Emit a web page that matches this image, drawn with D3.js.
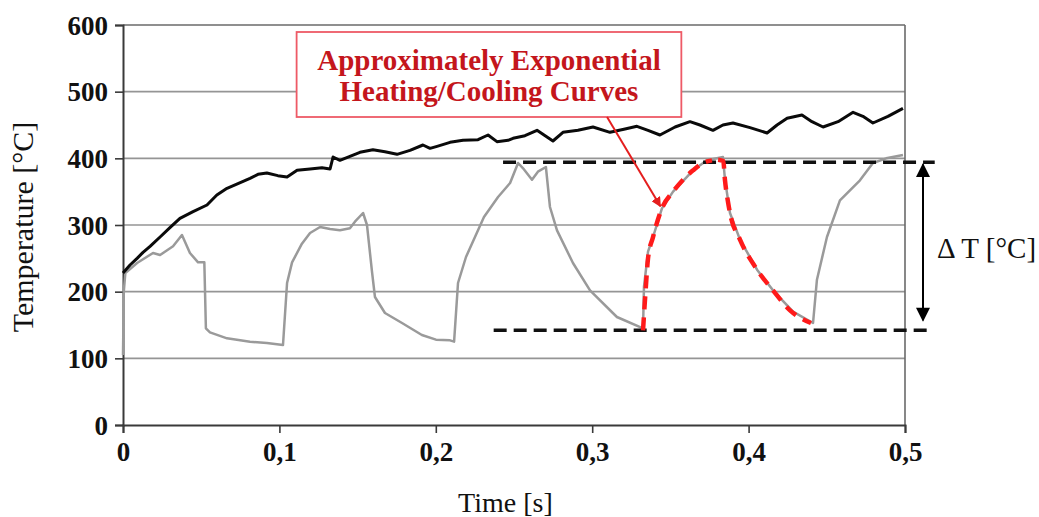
<!DOCTYPE html>
<html>
<head>
<meta charset="utf-8">
<script src="https://cdn.jsdelivr.net/npm/d3@7"></script>
<style>
  body { margin: 0; background: #fff; }
  svg { display: block; }
</style>
</head>
<body>
<svg></svg>
<script>
const w = 1039;
const h = 517;

// tick values
const xTicks = [0, 0.1, 0.2, 0.3, 0.4, 0.5];
const yTicks = [0, 100, 200, 300, 400, 500, 600];

// measured temperature (black)
const blackT = [0, 0.0045, 0.009, 0.0128, 0.0173, 0.0237, 0.03, 0.0364, 0.0448, 0.0537, 0.06, 0.0665, 0.0735, 0.0812, 0.0863, 0.092, 0.099, 0.1049, 0.1113, 0.1196, 0.1272, 0.1324, 0.1343, 0.1387, 0.1451, 0.1515, 0.1598, 0.1675, 0.1752, 0.1835, 0.1918, 0.1963, 0.2008, 0.2091, 0.2174, 0.227, 0.2334, 0.2391, 0.2462, 0.2494, 0.257, 0.2647, 0.2749, 0.2813, 0.2909, 0.3005, 0.3114, 0.321, 0.3286, 0.3357, 0.3433, 0.353, 0.3625, 0.3689, 0.3772, 0.3836, 0.39, 0.4009, 0.4118, 0.4182, 0.4246, 0.4341, 0.4405, 0.4476, 0.4572, 0.4668, 0.4731, 0.4795, 0.4891, 0.4987];
const blackV = [228, 240, 250, 259, 268, 282, 296, 310, 320, 330, 345, 355, 362, 370, 376, 378, 374, 372, 382, 384, 386, 384, 402, 397, 403, 409, 413, 410, 406, 412, 420, 415, 418, 424, 427, 428, 435, 425, 427, 430, 434, 442, 426, 439, 442, 447, 439, 444, 448, 442, 435, 447, 455, 450, 442, 450, 453, 446, 438, 450, 460, 465, 455, 447, 455, 469, 463, 453, 463, 475];

// measured temperature (grey)
const greyT = [0, 0.0005, 0.0015, 0.009, 0.0192, 0.0237, 0.032, 0.0377, 0.0428, 0.048, 0.052, 0.053, 0.0556, 0.0665, 0.0812, 0.092, 0.1023, 0.1049, 0.1081, 0.1144, 0.1196, 0.126, 0.1324, 0.1387, 0.1451, 0.1483, 0.1535, 0.156, 0.1592, 0.1611, 0.1675, 0.1784, 0.1911, 0.2001, 0.2091, 0.2117, 0.2142, 0.2193, 0.2308, 0.2398, 0.2475, 0.2526, 0.2558, 0.2615, 0.2653, 0.2704, 0.273, 0.2775, 0.2877, 0.2986, 0.3158, 0.3325, 0.3331, 0.3357, 0.3389, 0.3446, 0.3517, 0.3645, 0.3734, 0.3836, 0.3849, 0.3881, 0.3945, 0.4054, 0.4156, 0.4284, 0.4412, 0.4437, 0.4501, 0.4584, 0.4712, 0.4795, 0.4880, 0.4987];
const greyV = [105, 200, 228, 243, 258, 255, 268, 285, 258, 244, 244, 145, 139, 130, 125, 123, 120, 213, 244, 272, 288, 297, 294, 292, 295, 305, 318, 300, 230, 192, 168, 153, 135, 128, 127, 125, 213, 252, 312, 342, 363, 393, 385, 368, 380, 387, 327, 292, 243, 202, 162, 145, 207, 260, 282, 325, 350, 382, 397, 402, 368, 318, 278, 233, 202, 170, 153, 218, 282, 337, 367, 393, 400, 405];

// fitted curves (red dashed)
const heatT = [0.3325, 0.3341, 0.3357, 0.3389, 0.3446, 0.3517, 0.3581, 0.3645, 0.3709, 0.3766];
const heatV = [142, 200, 250, 282, 325, 350, 368, 382, 393, 397];
const coolT = [0.3805, 0.3838, 0.3849, 0.3868, 0.3881, 0.3945, 0.4054, 0.4156, 0.4265, 0.4399];
const coolV = [398, 396, 367, 335, 318, 278, 233, 202, 172, 153];

// delta T band
const bandTop = 394;
const bandBottom = 142;
const bandTopFrom = 0.243;
const bandBottomFrom = 0.237;
const bandTopTo = 0.519;
const bandBottomTo = 0.514;
const arrowAt = 0.5115;
const arrowTop = 391;
const arrowBottom = 157;

const svg = d3.select('svg').attr('width', w).attr('height', h);

const x = d3.scaleLinear().domain([0, 0.5]).range([123, 905]);
const y = d3.scaleLinear().domain([0, 600]).range([425, 25]);

const serif = '"Liberation Serif", "Times New Roman", serif';

const defs = svg.append('defs');
defs.append('marker')
  .attr('id', 'redHead')
  .attr('viewBox', '0 0 10 10')
  .attr('refX', 9).attr('refY', 5)
  .attr('markerWidth', 5).attr('markerHeight', 5)
  .attr('orient', 'auto')
  .append('path').attr('d', 'M0,0 L10,5 L0,10 z').attr('fill', '#e41e1e');
defs.append('marker')
  .attr('id', 'blackHead')
  .attr('viewBox', '0 0 10 10')
  .attr('refX', 9).attr('refY', 5)
  .attr('markerWidth', 7.5).attr('markerHeight', 7)
  .attr('orient', 'auto-start-reverse')
  .append('path').attr('d', 'M0,0 L10,5 L0,10 z').attr('fill', '#000');

// grid
svg.append('g')
  .selectAll('line')
  .data(yTicks.filter(d => d > 0 && d < 600))
  .enter()
  .append('line')
  .attr('x1', x(0)).attr('x2', x(0.5))
  .attr('y1', d => y(d)).attr('y2', d => y(d))
  .attr('stroke', '#959595').attr('stroke-width', 1.6);

// frame
svg.append('line')
  .attr('x1', x(0)).attr('x2', x(0.5)).attr('y1', y(600)).attr('y2', y(600))
  .attr('stroke', '#6a6a6a').attr('stroke-width', 1.6);
svg.append('line')
  .attr('x1', x(0.5)).attr('x2', x(0.5)).attr('y1', y(600)).attr('y2', y(0))
  .attr('stroke', '#6a6a6a').attr('stroke-width', 1.6);

// axes
const xAxis = d3.axisBottom(x).tickValues(xTicks).tickSize(8).tickPadding(9)
  .tickFormat(d => d3.format('.1f')(d).replace('.', ',').replace(/^0,0$/, '0'));
const gx = svg.append('g').attr('transform', `translate(0,${y(0)})`).call(xAxis);
const yAxis = d3.axisLeft(y).tickValues(yTicks).tickSize(8).tickPadding(7);
const gy = svg.append('g').attr('transform', `translate(${x(0)},0)`).call(yAxis);

[gx, gy].forEach(g => {
  g.select('.domain').attr('stroke', '#3a3a3a').attr('stroke-width', 2);
  g.selectAll('.tick line').attr('stroke', '#3a3a3a').attr('stroke-width', 1.6);
  g.selectAll('.tick text')
    .attr('fill', '#111')
    .style('font-family', serif)
    .style('font-weight', 'bold')
    .style('font-size', '27px');
});
gy.selectAll('.tick text').attr('dy', '0.34em');

const line = d3.line().x(d => x(d[0])).y(d => y(d[1]));

// grey series
svg.append('path')
  .datum(d3.zip(greyT, greyV))
  .attr('d', line)
  .attr('fill', 'none')
  .attr('stroke', '#9a9a9a')
  .attr('stroke-width', 2.5)
  .attr('stroke-linejoin', 'round');

// black series
svg.append('path')
  .datum(d3.zip(blackT, blackV))
  .attr('d', line)
  .attr('fill', 'none')
  .attr('stroke', '#0a0a0a')
  .attr('stroke-width', 3)
  .attr('stroke-linejoin', 'round');

// band lines
svg.append('line')
  .attr('x1', x(bandTopFrom)).attr('x2', x(bandTopTo))
  .attr('y1', y(bandTop)).attr('y2', y(bandTop))
  .attr('stroke', '#111').attr('stroke-width', 3.5).attr('stroke-dasharray', '13,7');
svg.append('line')
  .attr('x1', x(bandBottomFrom)).attr('x2', x(bandBottomTo))
  .attr('y1', y(bandBottom)).attr('y2', y(bandBottom))
  .attr('stroke', '#111').attr('stroke-width', 3.5).attr('stroke-dasharray', '13,7');

// red fitted curves
[d3.zip(heatT, heatV), d3.zip(coolT, coolV)].forEach(pts => {
  svg.append('path')
    .datum(pts)
    .attr('d', d3.line().x(d => x(d[0])).y(d => y(d[1])).curve(d3.curveMonotoneX))
    .attr('fill', 'none')
    .attr('stroke', '#ff1a1a')
    .attr('stroke-width', 4.5)
    .attr('stroke-dasharray', '13,8');
});

// double arrow for delta T
svg.append('line')
  .attr('x1', x(arrowAt)).attr('x2', x(arrowAt))
  .attr('y1', y(arrowTop)).attr('y2', y(arrowBottom))
  .attr('stroke', '#000').attr('stroke-width', 2)
  .attr('marker-start', 'url(#blackHead)')
  .attr('marker-end', 'url(#blackHead)');

svg.append('text')
  .attr('x', x(0.5205)).attr('y', y(250.5))
  .style('font-family', serif).style('font-size', '29px')
  .attr('fill', '#111')
  .text('\u0394 T [\u00b0C]');

// annotation box
const box = { t0: 0.111, t1: 0.357, v0: 589.5, v1: 462 };
svg.append('rect')
  .attr('x', x(box.t0)).attr('y', y(box.v0))
  .attr('width', x(box.t1) - x(box.t0)).attr('height', y(box.v1) - y(box.v0))
  .attr('fill', '#fff').attr('stroke', '#ee5a66').attr('stroke-width', 1.8);

const noteLines = ['Approximately Exponential', 'Heating/Cooling Curves'];
const noteAt = [532.5, 486];
svg.append('g')
  .selectAll('text')
  .data(noteLines)
  .enter()
  .append('text')
  .attr('x', x((box.t0 + box.t1) / 2))
  .attr('y', (d, i) => y(noteAt[i]))
  .attr('text-anchor', 'middle')
  .style('font-family', serif).style('font-weight', 'bold').style('font-size', '29px')
  .attr('fill', '#c4161c')
  .text(d => d);

svg.append('line')
  .attr('x1', x(0.3095)).attr('y1', y(462))
  .attr('x2', x(0.3436)).attr('y2', y(328))
  .attr('stroke', '#e41e1e').attr('stroke-width', 2)
  .attr('marker-end', 'url(#redHead)');

// axis titles
svg.append('text')
  .attr('transform', `translate(33,${y(297)}) rotate(-90)`)
  .attr('text-anchor', 'middle')
  .style('font-family', serif).style('font-size', '30px')
  .attr('fill', '#111')
  .text('Temperature [\u00b0C]');

svg.append('text')
  .attr('x', x(0.2445)).attr('y', 512)
  .attr('text-anchor', 'middle')
  .style('font-family', serif).style('font-size', '28px')
  .attr('fill', '#111')
  .text('Time [s]');
</script>
</body>
</html>
